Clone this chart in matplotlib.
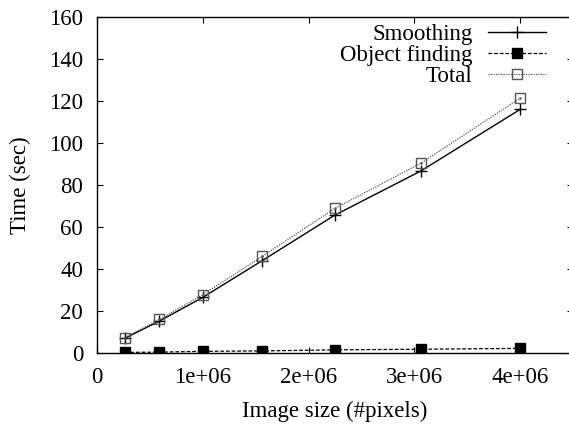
import matplotlib
matplotlib.use("Agg")
import matplotlib.pyplot as plt

image_sizes = [262144, 589824, 1000000, 1562500, 2250000, 3062500, 4000000]
smoothing = [7.0, 15.2, 26.5, 44.0, 65.7, 86.7, 116.0]
object_finding = [0.3, 0.4, 0.8, 1.0, 1.5, 1.8, 2.2]
total = [7.3, 16.0, 27.8, 46.0, 68.9, 90.4, 121.3]

x_ticks = [0, 1e6, 2e6, 3e6, 4e6]
x_tick_labels = ["0", "1e+06", "2e+06", "3e+06", "4e+06"]
y_ticks = [0, 20, 40, 60, 80, 100, 120, 140, 160]

plt.rcParams['font.family'] = ['Liberation Serif', 'DejaVu Serif']
FS = 16.5

W, H = 569, 425
fig = plt.figure(figsize=(W / 100, H / 100), dpi=100)
left, right, bottom, top = 97, 573, 353, 17
ax = fig.add_axes([left / W, 1 - bottom / H, (right - left) / W, (bottom - top) / H])

ax.plot(image_sizes, smoothing, color='black', lw=1.0, ls='-', marker='+',
        markersize=8, markeredgewidth=1.0, label='Smoothing')
ax.plot(image_sizes, object_finding, color='black', lw=0.9, ls=(0, (3, 1.5)), marker='s',
        markersize=7, label='Object finding')
ax.plot(image_sizes, total, color='#555555', lw=0.9, ls=(0, (1, 1)), marker='s',
        markersize=7, markerfacecolor='none', markeredgecolor='#555555',
        markeredgewidth=1.0, label='Total')
ax.plot(image_sizes, total, ls='none', marker='.', markersize=1.5, color='#555555')

ax.set_xlim(0, 4.5e6)
ax.set_ylim(0, 160)
ax.set_xticks(x_ticks)
ax.set_xticklabels(x_tick_labels)
ax.set_yticks(y_ticks)
ax.tick_params(direction='in', length=4, width=0.8, labelsize=FS,
               top=True, right=True, pad=10)
for s in ax.spines.values():
    s.set_linewidth(1.0)

ax.set_xlabel('Image size (#pixels)', fontsize=FS, labelpad=9)
ax.set_ylabel('Time (sec)', fontsize=FS, labelpad=13)

leg = ax.legend(loc='upper right', bbox_to_anchor=(546 / W, 1 - 24 / H),
                bbox_transform=fig.transFigure, markerfirst=False, frameon=False,
                fontsize=FS, handlelength=2.55, handletextpad=0.65, labelspacing=0.0,
                borderpad=0, borderaxespad=0)

fig.savefig('out.png', dpi=100)
